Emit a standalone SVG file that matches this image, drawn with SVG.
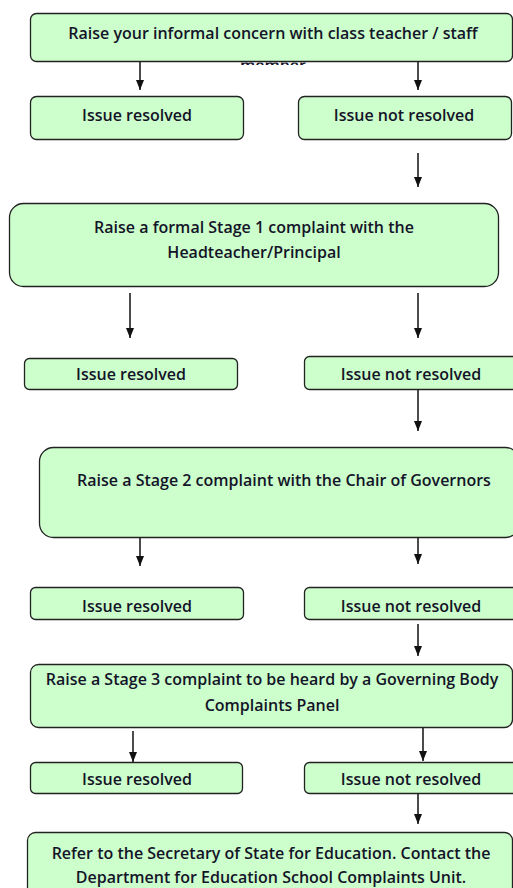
<svg xmlns="http://www.w3.org/2000/svg" width="513" height="888" viewBox="0 0 513 888">
<style>
.box{fill:#ccffcc;stroke:#222;stroke-width:1.3}
.t{font-family:"Open Sans","Liberation Sans",sans-serif;font-size:16px;font-weight:600;fill:#141428;text-anchor:middle}
.c{stroke:#111;stroke-width:1.5;fill:none;marker-end:url(#ah)}
</style>
<defs>
<marker id="ah" viewBox="0 0 10 8" refX="10" refY="4" markerWidth="10" markerHeight="8" markerUnits="userSpaceOnUse" orient="auto"><path d="M0,0 L10,4 L0,8 z" fill="#111"/></marker>
<clipPath id="clipm"><rect x="0" y="62.5" width="513" height="2.5"/></clipPath>
</defs>
<rect width="513" height="888" fill="#fff"/>
<g id="connectors">
<path class="c" d="M140,62 V90"/>
<path class="c" d="M418,62 V90"/>
<path class="c" d="M418,153 V187"/>
<path class="c" d="M130,293 V338"/>
<path class="c" d="M418,293 V338"/>
<path class="c" d="M418,389 V431"/>
<path class="c" d="M140,537 V566"/>
<path class="c" d="M418,537 V564"/>
<path class="c" d="M418,624 V656"/>
<path class="c" d="M133,731 V762"/>
<path class="c" d="M423,728 V761"/>
<path class="c" d="M418,793 V824"/>
</g>
<g id="n1"><rect class="box" x="30.5" y="13.5" width="482" height="48" rx="6"/><text class="t" x="273" y="39">Raise your informal concern with class teacher / staff</text><text class="t" x="273" y="71" clip-path="url(#clipm)">member</text></g>
<g id="n2"><rect class="box" x="30.5" y="96.5" width="213" height="43" rx="6"/><text class="t" x="137" y="121">Issue resolved</text></g>
<g id="n3"><rect class="box" x="298.5" y="96.5" width="213" height="43" rx="6"/><text class="t" x="404" y="121">Issue not resolved</text></g>
<g id="n4"><rect class="box" x="9.5" y="203.5" width="489" height="83" rx="14"/><text class="t" x="254" y="233">Raise a formal Stage 1 complaint with the</text><text class="t" x="254" y="258">Headteacher/Principal</text></g>
<g id="n5"><rect class="box" x="24.5" y="358.5" width="213" height="31" rx="5"/><text class="t" x="131" y="380">Issue resolved</text></g>
<g id="n6"><rect class="box" x="304.5" y="356.5" width="214" height="33" rx="5"/><text class="t" x="411" y="380">Issue not resolved</text></g>
<g id="n7"><rect class="box" x="39.5" y="447.5" width="480" height="90" rx="14"/><text class="t" x="284" y="486">Raise a Stage 2 complaint with the Chair of Governors</text></g>
<g id="n8"><rect class="box" x="30.5" y="587.5" width="213" height="32" rx="5"/><text class="t" x="137" y="612">Issue resolved</text></g>
<g id="n9"><rect class="box" x="304.5" y="587.5" width="214" height="32" rx="5"/><text class="t" x="411" y="612">Issue not resolved</text></g>
<g id="n10"><rect class="box" x="30.5" y="664.5" width="482" height="63" rx="8"/><text class="t" x="272" y="685">Raise a Stage 3 complaint to be heard by a Governing Body</text><text class="t" x="272" y="711">Complaints Panel</text></g>
<g id="n11"><rect class="box" x="30.5" y="762.5" width="212" height="31" rx="5"/><text class="t" x="137" y="785">Issue resolved</text></g>
<g id="n12"><rect class="box" x="304.5" y="762.5" width="214" height="31" rx="5"/><text class="t" x="411" y="785">Issue not resolved</text></g>
<g id="n13"><rect class="box" x="27.5" y="832.5" width="485" height="70" rx="8"/><text class="t" x="271" y="859">Refer to the Secretary of State for Education. Contact the</text><text class="t" x="271" y="883">Department for Education School Complaints Unit.</text></g>
</svg>
